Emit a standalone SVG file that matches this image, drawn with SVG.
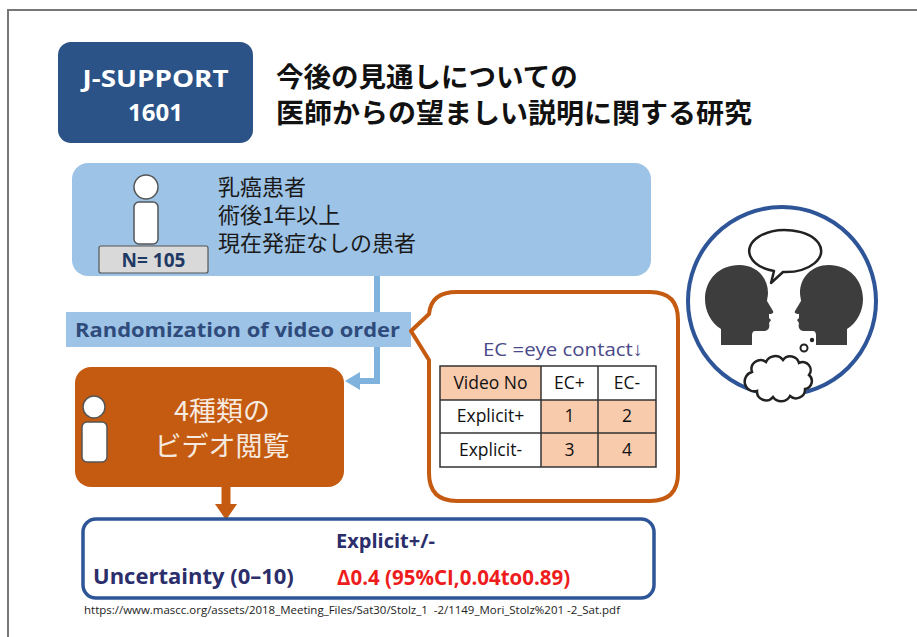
<svg xmlns="http://www.w3.org/2000/svg" width="917" height="637" viewBox="0 0 917 637">
  <defs>
    <style>
      .jp { font-family: "Noto Sans CJK JP", "Noto Sans", sans-serif; }
      .lat { font-family: "Open Sans", "Noto Sans", "Liberation Sans", sans-serif; }
      .cell { font-family: "Open Sans", "Liberation Sans", sans-serif; font-size: 17.5px; fill: #111; text-anchor: middle; }
      .person { fill: #ffffff; stroke: #555; stroke-width: 1.5; }
      .tbl { stroke: #333; stroke-width: 1.5; }
      .head { fill: #3d3d3d; }
    </style>
  </defs>

  <rect width="917" height="637" fill="#ffffff"/>

  <!-- page frame -->
  <path d="M8,637 L8,10 L917,10" fill="none" stroke="#777" stroke-width="2"/>

  <!-- connectors -->
  <g id="connectors">
    <path d="M377,276 L377,381 L358,381" fill="none" stroke="#7fb2dc" stroke-width="6"/>
    <path d="M345,381 L360,372 L360,390 Z" fill="#7fb2dc"/>
    <path d="M226,487 L226,506" fill="none" stroke="#c55a11" stroke-width="9"/>
    <path d="M215,504 L237,504 L226,520 Z" fill="#c55a11"/>
  </g>

  <!-- study badge -->
  <g id="badge">
    <rect x="58" y="42" width="195" height="101" rx="13" fill="#2b5387"/>
    <text class="lat" x="155.5" y="87" font-size="24" font-weight="700" fill="#ffffff" text-anchor="middle" textLength="146" lengthAdjust="spacingAndGlyphs">J-SUPPORT</text>
    <text class="lat" x="155.5" y="121" font-size="24" font-weight="700" fill="#ffffff" text-anchor="middle">1601</text>
  </g>

  <!-- title -->
  <g id="title">
    <text class="jp" x="276" y="87" font-size="27.5" font-weight="700" fill="#111">今後の見通しについての</text>
    <text class="jp" x="276" y="123" font-size="27.5" font-weight="700" fill="#111" textLength="476" lengthAdjust="spacingAndGlyphs">医師からの望ましい説明に関する研究</text>
  </g>

  <!-- patients -->
  <g id="patients">
    <rect x="72" y="163" width="579" height="113" rx="16" fill="#9dc3e6"/>
    <circle class="person" cx="146" cy="187" r="12"/>
    <rect class="person" x="134" y="202" width="24" height="42" rx="5"/>
    <rect x="99" y="246" width="109" height="27" rx="2" fill="#d9d9d9" stroke="#555" stroke-width="1.2"/>
    <text class="lat" x="153.5" y="267" font-size="19" font-weight="700" fill="#1f3864" text-anchor="middle">N= 105</text>
    <text class="jp" x="218" y="195" font-size="22" fill="#1a1a1a">乳癌患者</text>
    <text class="jp" x="218" y="223" font-size="22" fill="#1a1a1a">術後1年以上</text>
    <text class="jp" x="218" y="251" font-size="22" fill="#1a1a1a">現在発症なしの患者</text>
  </g>

  <!-- randomization -->
  <g id="randomization">
    <rect x="66" y="312" width="345" height="35" fill="#9dc3e6"/>
    <text class="lat" x="75" y="337" font-size="20" font-weight="700" fill="#2f4b7c" textLength="325" lengthAdjust="spacingAndGlyphs">Randomization of video order</text>
  </g>

  <!-- video viewing -->
  <g id="viewing">
    <rect x="75" y="367" width="269" height="120" rx="16" fill="#c55a11"/>
    <circle class="person" cx="94" cy="407" r="11"/>
    <rect class="person" x="82" y="422" width="25" height="40" rx="5"/>
    <text class="jp" x="222" y="421" font-size="27" fill="#f6e9df" text-anchor="middle">4種類の</text>
    <text class="jp" x="222" y="456" font-size="27" fill="#f6e9df" text-anchor="middle">ビデオ閲覧</text>
  </g>

  <!-- video order table callout -->
  <g id="callout">
    <path d="M457,292 L650,292 Q678,292 678,320 L678,473 Q678,501 650,501 L457,501 Q429,501 429,473 L429,360 L411,331 L429,314 Q431,292 457,292 Z" fill="#ffffff" stroke="#c55a11" stroke-width="4" stroke-linejoin="round"/>
    <text class="lat" x="483" y="356" font-size="19" fill="#4a4a8a" textLength="160" lengthAdjust="spacingAndGlyphs">EC =eye contact↓</text>
    <rect x="440" y="366" width="101" height="34" fill="#f8cbad"/>
    <rect x="541" y="400" width="115" height="67" fill="#f8cbad"/>
    <rect class="tbl" x="440" y="366" width="216" height="101" fill="none"/>
    <line class="tbl" x1="541" y1="366" x2="541" y2="467"/>
    <line class="tbl" x1="598" y1="366" x2="598" y2="467"/>
    <line class="tbl" x1="440" y1="400" x2="656" y2="400"/>
    <line class="tbl" x1="440" y1="433" x2="656" y2="433"/>
    <text class="cell" x="490.5" y="389">Video No</text>
    <text class="cell" x="569.5" y="389">EC+</text>
    <text class="cell" x="627" y="389">EC-</text>
    <text class="cell" x="490.5" y="422">Explicit+</text>
    <text class="cell" x="569.5" y="422">1</text>
    <text class="cell" x="627" y="422">2</text>
    <text class="cell" x="490.5" y="456">Explicit-</text>
    <text class="cell" x="569.5" y="456">3</text>
    <text class="cell" x="627" y="456">4</text>
  </g>

  <!-- outcome -->
  <g id="outcome">
    <rect x="83" y="519" width="571" height="79" rx="13" fill="#ffffff" stroke="#2e5597" stroke-width="3.5"/>
    <text class="lat" x="336" y="548" font-size="20" font-weight="700" fill="#2b2e6b">Explicit+/-</text>
    <text class="lat" x="93" y="584" font-size="22" font-weight="700" fill="#2b2e6b">Uncertainty (0–10)</text>
    <text class="lat" x="337" y="585" font-size="20.5" font-weight="700" fill="#ee1c1c">Δ0.4 (95%CI,0.04to0.89)</text>
  </g>

  <!-- source -->
  <text class="lat" x="84" y="614" font-size="10.5" fill="#222" textLength="536" lengthAdjust="spacingAndGlyphs" xml:space="preserve">https://www.mascc.org/assets/2018_Meeting_Files/Sat30/Stolz_1  -2/1149_Mori_Stolz%201 -2_Sat.pdf</text>

  <!-- conversation icon -->
  <g id="conversation">
    <circle cx="782" cy="301" r="94" fill="#ffffff" stroke="#2e5597" stroke-width="4"/>
    <path class="head" transform="translate(705,265)" d="M16,80 L16,64 C6,58 0,46 0,34 C0,14 15,0 34,0 C52,0 63,13 63,28 C63,31 62,34 62,36 L68,46 C69,48 67,49 64,49 L64,53 L66,55 L64,58 C65,62 64,65 60,66 L50,66 C48,66 47,68 47,70 L47,80 Z"/>
    <path class="head" transform="translate(863,265) scale(-1,1)" d="M16,80 L16,64 C6,58 0,46 0,34 C0,14 15,0 34,0 C52,0 63,13 63,28 C63,31 62,34 62,36 L68,46 C69,48 67,49 64,49 L64,53 L66,55 L64,58 C65,62 64,65 60,66 L50,66 C48,66 47,68 47,70 L47,80 Z"/>
    <path d="M774,271 A36,21 0 1 1 783,272 L771,283 Z" fill="#ffffff" stroke="#222" stroke-width="2.5" stroke-linejoin="round"/>
    <path d="M752,372 a9,9 0 0 1 14,-10 a10,10 0 0 1 17,-2 a9,9 0 0 1 16,3 a8,8 0 0 1 10,12 a8,8 0 0 1 -4,14 a9,9 0 0 1 -15,7 a10,10 0 0 1 -17,1 a9,9 0 0 1 -16,-6 a8,8 0 0 1 -5,-19 z" fill="#ffffff" stroke="#222" stroke-width="2.5"/>
    <circle cx="804" cy="348" r="3.5" fill="#ffffff" stroke="#222" stroke-width="2"/>
    <circle cx="812" cy="340" r="2.2" fill="#222"/>
  </g>
</svg>
